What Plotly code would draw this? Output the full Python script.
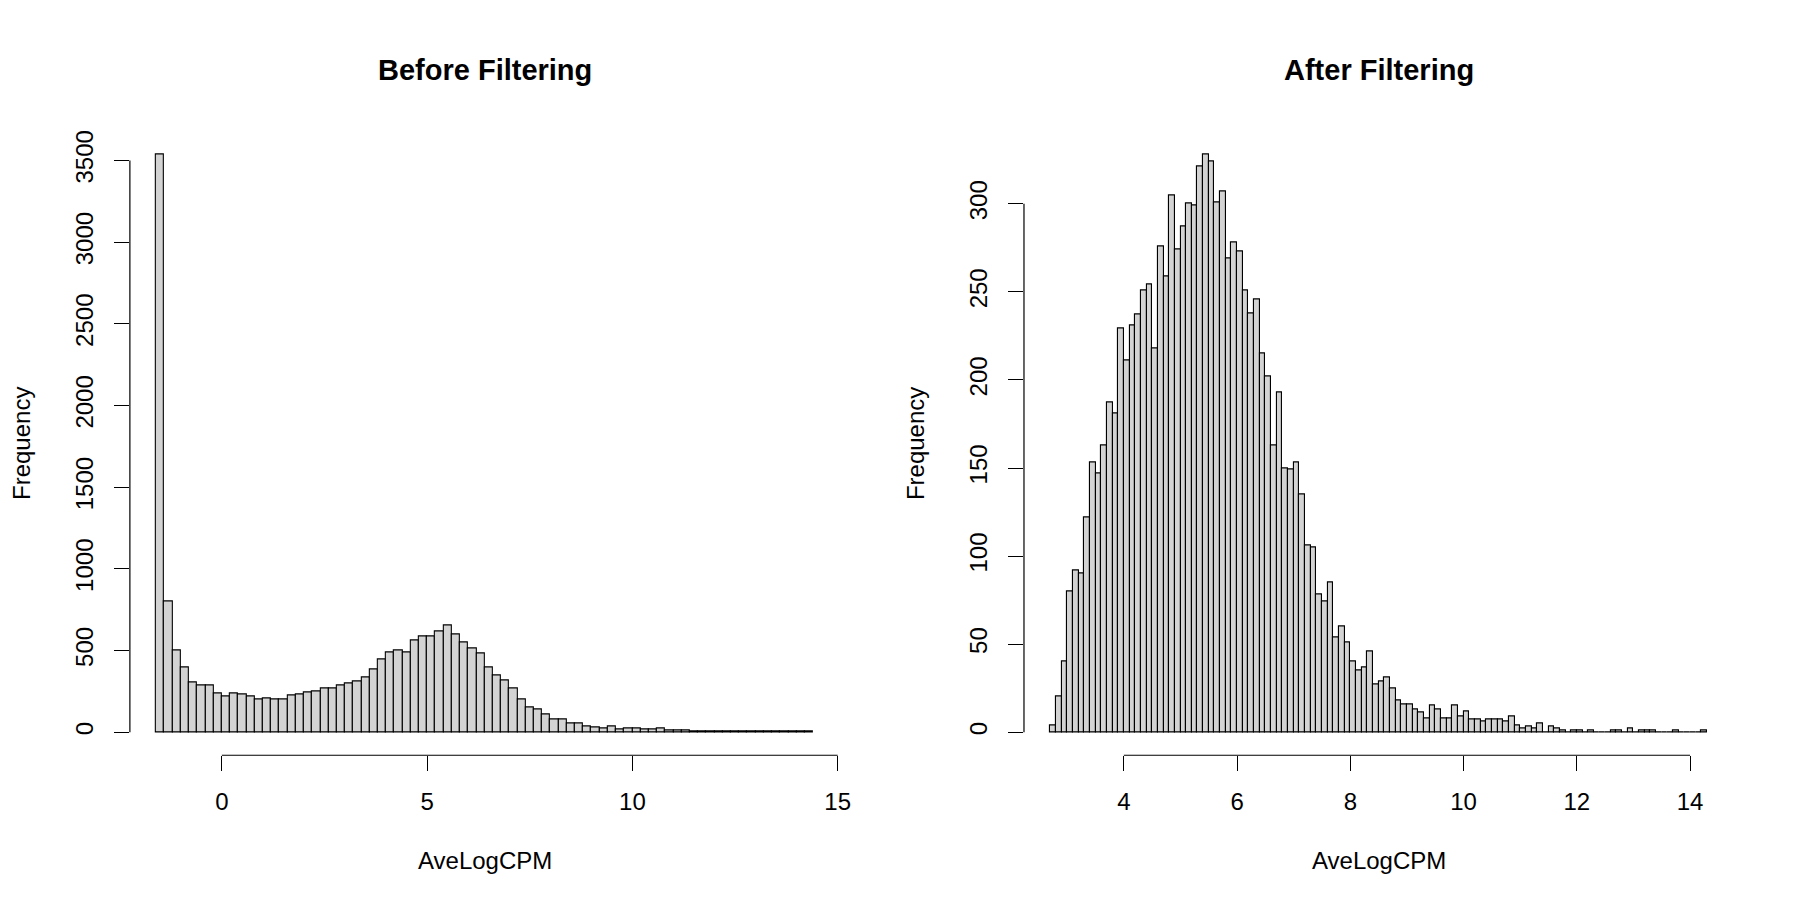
import numpy as np
import plotly.graph_objects as go

# histogram counts (AveLogCPM)
before_start = -1.6
before_width = 0.2
before_counts = [
    3536, 801, 500, 395, 304, 285, 285, 235, 221, 239,
    231, 217, 202, 208, 200, 198, 225, 231, 241, 251,
    269, 267, 285, 298, 312, 332, 385, 443, 488, 498,
    488, 559, 583, 583, 619, 656, 599, 549, 512, 482,
    397, 346, 314, 267, 202, 154, 136, 109, 77, 79,
    55, 55, 36, 26, 22, 32, 16, 24, 20, 16,
    14, 20, 12, 8, 10, 6, 6, 4, 3, 3,
    3, 2, 4, 4, 2, 2, 3, 2, 2, 2,
]

after_start = 2.7
after_width = 0.1
after_counts = [
    4, 20, 40,
    80, 92, 90, 122, 153, 147, 163, 187, 181, 229,
    211, 231, 237, 251, 254, 218, 276, 259, 305, 274,
    287, 300, 299, 321, 328, 324, 301, 307, 269, 278,
    273, 251, 238, 246, 215, 202, 163, 193, 150, 149,
    153, 135, 106, 105, 78, 74, 85, 54, 60, 51,
    40, 35, 37, 46, 27, 29, 31, 25, 18, 16,
    16, 13, 11, 8, 15, 13, 8, 8, 15, 9,
    12, 7, 7, 6, 7, 7, 7, 6, 9, 4,
    2, 3, 2, 5, 0, 3, 2, 1, 0, 1,
    1, 0, 1, 0, 0, 0, 1, 1, 0, 2,
    0, 1, 1, 1, 0, 0, 0, 1, 0, 0,
    0, 0, 1,
]

before_xticks = [0, 5, 10, 15]
before_yticks = [0, 500, 1000, 1500, 2000, 2500, 3000, 3500]
after_xticks = [4, 6, 8, 10, 12, 14]
after_yticks = [0, 50, 100, 150, 200, 250, 300]

titles = ["Before Filtering", "After Filtering"]
xlabel = "AveLogCPM"
ylabel = "Frequency"

FONT = "Liberation Sans"
W, H = 1800, 900

# plot regions in pixels (R mfrow=c(1,2) default margins)
panels = [(122.7, 836.9), (1022.8, 1736.9)]
y_top, y_bot = 122.6, 747.1


def edges(start, width, counts):
    return start + width * np.arange(len(counts) + 1)


def padded(lo, hi):
    d = (hi - lo) * 0.04
    return [lo - d, hi + d]


fig = go.Figure()

datasets = [
    (before_start, before_width, before_counts, before_xticks, before_yticks),
    (after_start, after_width, after_counts, after_xticks, after_yticks),
]

ydom = [1 - y_bot / H, 1 - y_top / H]
for i, (start, width, counts, xt, yt) in enumerate(datasets):
    n = "" if i == 0 else str(i + 1)
    br = edges(start, width, counts)
    mids = (br[:-1] + br[1:]) / 2
    fig.add_trace(go.Bar(
        x=mids, y=counts, width=width,
        marker=dict(color="#D3D3D3", line=dict(color="black", width=1.1)),
        xaxis="x" + n, yaxis="y" + n, showlegend=False,
        hoverinfo="x+y",
    ))
    x0, x1 = panels[i]
    axis_font = dict(family=FONT, size=24, color="black")
    fig.layout["xaxis" + n] = dict(
        domain=[x0 / W, x1 / W], anchor="y" + n,
        range=padded(br[0], br[-1]),
        tickvals=xt, ticks="outside", ticklen=15, tickwidth=1.2,
        tickcolor="black", showline=False, showgrid=False, zeroline=False,
        tickfont=axis_font, ticklabelstandoff=10,
    )
    fig.layout["yaxis" + n] = dict(
        domain=ydom, anchor="x" + n,
        range=padded(0, max(counts)),
        tickvals=yt, ticks="outside", ticklen=15, tickwidth=1.2,
        tickcolor="black", showline=False, showgrid=False, zeroline=False,
        tickfont=axis_font, tickangle=-90, ticklabelstandoff=11,
    )
    # R-style axis lines spanning the tick range only
    fig.add_shape(type="line", xref="x" + n, yref="y" + n + " domain",
                  x0=min(xt), x1=max(xt), y0=0, y1=0,
                  line=dict(color="black", width=1.2))
    fig.add_shape(type="line", xref="x" + n + " domain", yref="y" + n,
                  x0=0, x1=0, y0=min(yt), y1=max(yt),
                  line=dict(color="black", width=1.2))
    cx = (x0 + x1) / 2 / W
    fig.add_annotation(text="<b>" + titles[i] + "</b>", x=cx, y=1 - 60.7 / H,
                       xref="paper", yref="paper", showarrow=False,
                       xanchor="center", yanchor="middle",
                       font=dict(family=FONT, size=29, color="black"))
    fig.add_annotation(text=xlabel, x=cx, y=1 - 852 / H,
                       xref="paper", yref="paper", showarrow=False,
                       xanchor="center", yanchor="middle",
                       font=dict(family=FONT, size=24, color="black"))
    fig.add_annotation(text=ylabel, x=(x0 - 109) / W, y=sum(ydom) / 2,
                       xref="paper", yref="paper", showarrow=False,
                       textangle=-90, xanchor="center", yanchor="middle",
                       font=dict(family=FONT, size=24, color="black"))

fig.update_layout(
    width=W, height=H,
    margin=dict(l=0, r=0, t=0, b=0),
    paper_bgcolor="white", plot_bgcolor="white",
    bargap=0,
    font=dict(family=FONT, size=24, color="black"),
)

fig.write_html("out.html")
